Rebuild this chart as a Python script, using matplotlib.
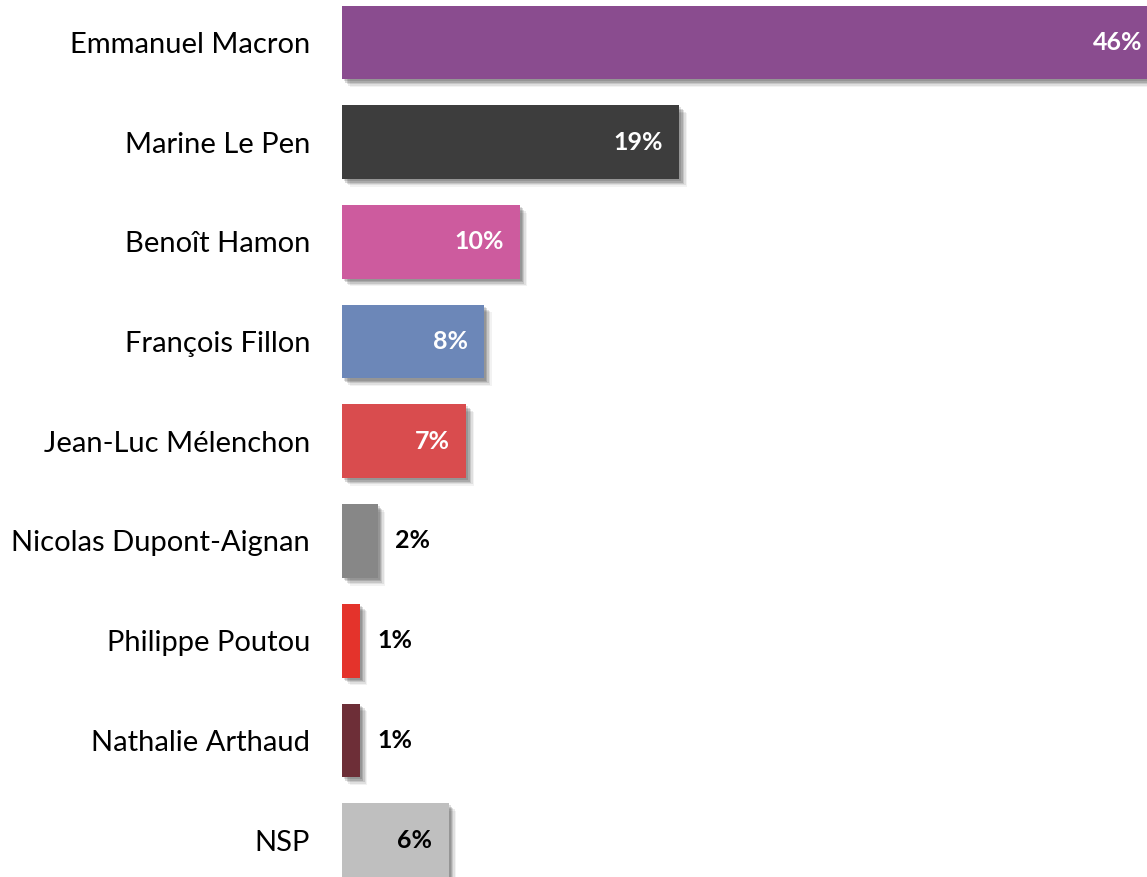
import matplotlib
matplotlib.use("Agg")
import matplotlib.pyplot as plt
import matplotlib.patheffects as pe

candidats = ["Emmanuel Macron", "Marine Le Pen", "Benoît Hamon", "François Fillon",
             "Jean-Luc Mélenchon", "Nicolas Dupont-Aignan", "Philippe Poutou",
             "Nathalie Arthaud", "NSP"]
scores = [46, 19, 10, 8, 7, 2, 1, 1, 6]
couleurs = ["#8A4C8F", "#3D3D3D", "#CD5B9E", "#6C87B8", "#D94C4E",
            "#878787", "#E4332B", "#6D2E37", "#BFBFBF"]
# position de l'etiquette : dedans (blanc / noir) ou dehors
etiquettes = ["in_w", "in_w", "in_w", "in_w", "in_w", "out", "out", "out", "in_k"]

plt.rcParams['font.family'] = ['Lato', 'DejaVu Sans']

W, H = 1147, 877
fig = plt.figure(figsize=(W / 100, H / 100), dpi=100)
# axes commence au bord gauche des barres (x = 342 px)
ax = fig.add_axes([342 / W, 0, 1 - 342 / W, 1])

px_par_pct = 17.75
ax.set_xlim(0, (W - 342) / px_par_pct)
pas = 99.7
ax.set_ylim((H - 42.5) / pas, -42.5 / pas)

y = list(range(len(candidats)))
barres = ax.barh(y, scores, height=0.74, color=couleurs, zorder=2)
# ombre portee floue (plusieurs couches)
ombre = [pe.SimplePatchShadow(offset=(d, -d), shadow_rgbFace='k', alpha=a)
         for d, a in [(5.5, 0.05), (4.5, 0.08), (3.5, 0.11), (2.5, 0.14), (1.5, 0.12)]]
for b in barres:
    b.set_path_effects(ombre + [pe.Normal()])

pad = 16 / px_par_pct
for i, (v, mode) in enumerate(zip(scores, etiquettes)):
    txt = f"{v}%"
    if mode == "out":
        ax.text(v + 18 / px_par_pct, i, txt, ha='left', va='center',
                fontsize=18, fontweight='bold', color='black', clip_on=False, zorder=3)
    else:
        c = 'white' if mode == "in_w" else 'black'
        ax.text(v - pad, i, txt, ha='right', va='center',
                fontsize=18, fontweight='bold', color=c, clip_on=False, zorder=3)

ax.set_yticks(y)
ax.set_yticklabels(candidats, fontsize=21)
ax.tick_params(axis='y', length=0, pad=23)
ax.set_xticks([])
for s in ax.spines.values():
    s.set_visible(False)

fig.savefig("out.png", dpi=100)
